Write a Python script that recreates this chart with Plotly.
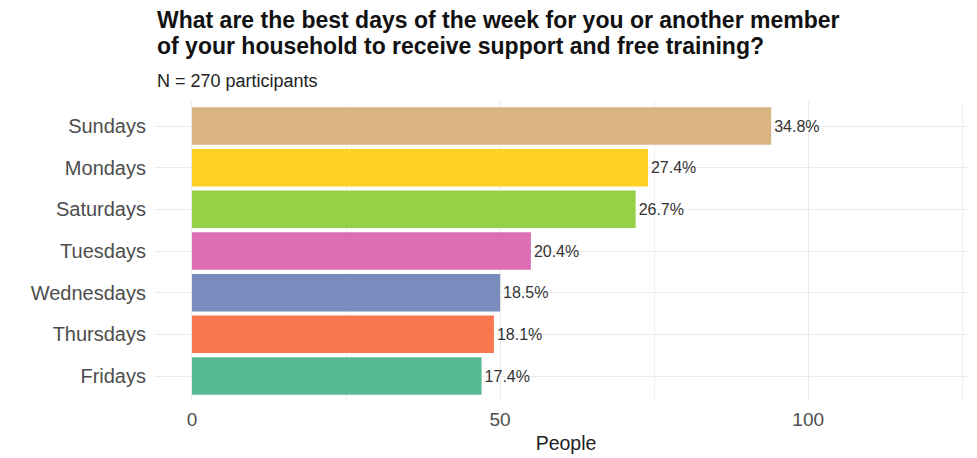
import plotly.graph_objects as go

days = ["Sundays", "Mondays", "Saturdays", "Tuesdays", "Wednesdays", "Thursdays", "Fridays"]
people = [94, 74, 72, 55, 50, 49, 47]
pct_labels = ["34.8%", "27.4%", "26.7%", "20.4%", "18.5%", "18.1%", "17.4%"]
colors = ["#DAB482", "#FFD124", "#95D144", "#DE6EB4", "#7A8BBD", "#F87650", "#56B993"]
x_ticks = [0, 50, 100]
title_lines = ["What are the best days of the week for you or another member",
               "of your household to receive support and free training?"]
subtitle = "N = 270 participants"

FONT = "Liberation Sans, Arial, sans-serif"
# page body has an 8px margin, so the figure is drawn 8px smaller and offset
W, H = 969, 450
L, R, T, B = 147, 0, 92.5, 57

fig = go.Figure(go.Bar(
    y=days, x=people, orientation="h",
    marker=dict(color=colors, line=dict(width=0)),
    width=0.9,
    text=pct_labels, textposition="outside",
    textfont=dict(family=FONT, size=16, color="#333333"),
    cliponaxis=False,
))

fig.update_layout(
    width=W, height=H,
    margin=dict(l=L, r=R, t=T, b=B, autoexpand=False),
    paper_bgcolor="white", plot_bgcolor="white",
    showlegend=False,
    font=dict(family=FONT),
    xaxis=dict(
        range=[-6, 127.4],
        tickvals=x_ticks, ticktext=[str(v) for v in x_ticks],
        showgrid=True, gridcolor="#EBEBEB", gridwidth=1.2,
        minor=dict(dtick=25, tick0=0, showgrid=True, gridcolor="#EFEFEF", gridwidth=1),
        zeroline=False, showline=False, ticks="",
        ticklabelstandoff=5,
        tickfont=dict(family=FONT, size=19, color="#4D4D4D"),
        title=dict(text="People", font=dict(family=FONT, size=19.5, color="#222222"), standoff=7),
    ),
    yaxis=dict(
        categoryorder="array", categoryarray=days,
        range=[6.6, -0.6],
        showgrid=True, gridcolor="#EBEBEB", gridwidth=1.2,
        zeroline=False, showline=False, ticks="",
        ticklabelstandoff=8,
        tickfont=dict(family=FONT, size=20, color="#4D4D4D"),
    ),
)

plot_h = H - T - B
def py(pix):
    return (H - B - pix) / plot_h

for line, ypix in zip(title_lines, [11.5, 37]):
    fig.add_annotation(
        xref="paper", yref="paper", x=0, y=py(ypix), xanchor="left", yanchor="middle",
        align="left", showarrow=False,
        text="<b>" + line + "</b>",
        font=dict(family=FONT, size=23, color="#111111"),
    )
fig.add_annotation(
    xref="paper", yref="paper", x=0, y=py(72), xanchor="left", yanchor="middle",
    align="left", showarrow=False,
    text=subtitle,
    font=dict(family=FONT, size=18, color="#222222"),
)

fig.write_html("out.html")
